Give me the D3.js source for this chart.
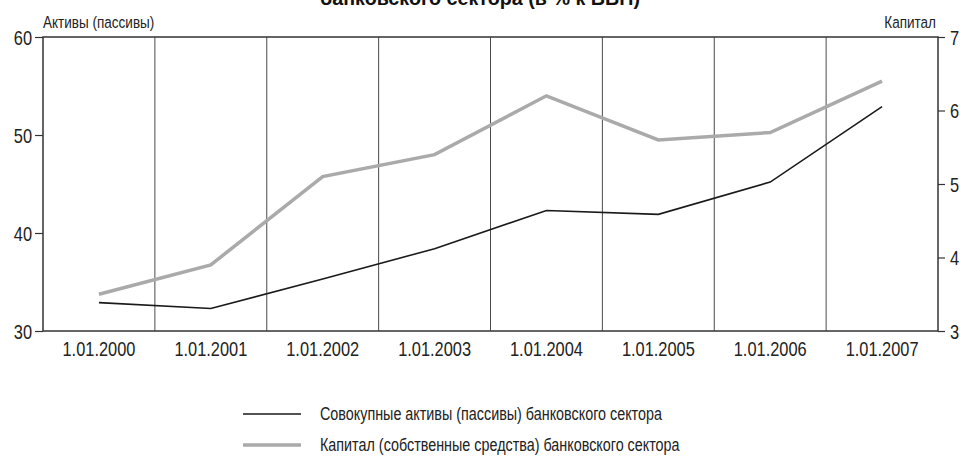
<!DOCTYPE html>
<html>
<head>
<meta charset="utf-8">
<script src="https://cdnjs.cloudflare.com/ajax/libs/d3/7.8.5/d3.min.js"></script>
<style>
	body { margin: 0; background: #fff; }
	svg { display: block; font-family: "Liberation Sans", Arial, sans-serif; }
	.grid-line { stroke: #4a4a4a; stroke-width: 1; }
	.frame { fill: none; stroke: #333; stroke-width: 1.5; }
	.axis path { display: none; }
	.axis line { stroke: #333; stroke-width: 1.2; }
	.axis text { font-size: 20px; fill: #222; font-family: inherit; }
	.line-assets { fill: none; stroke: #1a1a1a; stroke-width: 1.6; }
	.line-capital { fill: none; stroke: #aaaaaa; stroke-width: 3.5; }
</style>
</head>
<body>
<div id="chart"></div>
<script>
(function () {
	'use strict';

	var dates = ['1.01.2000', '1.01.2001', '1.01.2002', '1.01.2003', '1.01.2004', '1.01.2005', '1.01.2006', '1.01.2007'];
	var assets = [32.9, 32.3, 35.3, 38.4, 42.3, 41.9, 45.2, 52.9];
	var capital = [3.5, 3.9, 5.1, 5.4, 6.2, 5.6, 5.7, 6.4];
	var leftTicks = [30, 40, 50, 60];
	var rightTicks = [3, 4, 5, 6, 7];
	var legendLabels = ['Совокупные активы (пассивы) банковского сектора', 'Капитал (собственные средства) банковского сектора'];

	var margin = {
			top: 37,
			right: 22,
			bottom: 131,
			left: 43
		},
		fullWidth = 960,
		fullHeight = 462,
		width = fullWidth - margin.left - margin.right,
		height = fullHeight - margin.top - margin.bottom;

	// no narrow font installed, so squeeze the text horizontally round its anchor
	var narrow = 0.82;

	function condense(selection, k) {
		selection.attr('transform', function () {
			var x = +d3.select(this).attr('x') || 0;
			return 'translate(' + x + ',0) scale(' + (k || narrow) + ',1) translate(' + (-x) + ',0)';
		});
	}

	var xScale = d3.scaleBand().domain(dates).range([0, width]).padding(0),
		yLeft = d3.scaleLinear().domain([30, 60]).range([height, 0]),
		yRight = d3.scaleLinear().domain([3, 7]).range([height, 0]);

	var svg = d3.select('#chart')
		.append('svg')
			.attr('width', fullWidth)
			.attr('height', fullHeight);

	// title, cut off by the top edge like in the source
	svg.append('text')
		.attr('x', 480)
		.attr('y', 5)
		.attr('text-anchor', 'middle')
		.style('font-size', '21px')
		.style('font-weight', 'bold')
		.style('fill', '#111')
		.text('банковского сектора (в % к ВВП)')
		.call(condense, 0.94);

	var g = svg.append('g')
		.attr('transform', 'translate(' + margin.left + ',' + margin.top + ')');

	// vertical grid lines between the years
	g.selectAll('.grid-line')
		.data(dates.slice(1))
		.enter()
		.append('line')
			.attr('class', 'grid-line')
			.attr('x1', function (d) { return xScale(d); })
			.attr('x2', function (d) { return xScale(d); })
			.attr('y1', 0)
			.attr('y2', height);

	g.append('rect')
		.attr('class', 'frame')
		.attr('width', width)
		.attr('height', height);

	g.append('g')
		.attr('class', 'axis axis-left')
		.call(d3.axisLeft(yLeft).tickValues(leftTicks).tickFormat(d3.format('d')).tickSize(8).tickPadding(3));

	g.append('g')
		.attr('class', 'axis axis-right')
		.attr('transform', 'translate(' + width + ',0)')
		.call(d3.axisRight(yRight).tickValues(rightTicks).tickFormat(d3.format('d')).tickSize(7).tickPadding(5));

	g.append('g')
		.attr('class', 'axis axis-bottom')
		.attr('transform', 'translate(0,' + height + ')')
		.call(d3.axisBottom(xScale).tickSize(0).tickPadding(11));

	g.selectAll('.axis-left .tick text, .axis-right .tick text').attr('dy', '0.35em');
	g.selectAll('.axis text').call(condense);

	// axis captions
	g.append('text')
		.attr('x', 0)
		.attr('y', -9)
		.style('font-size', '16.5px')
		.style('fill', '#222')
		.text('Активы (пассивы)')
		.call(condense);

	g.append('text')
		.attr('x', width - 2)
		.attr('y', -9)
		.attr('text-anchor', 'end')
		.style('font-size', '16.5px')
		.style('fill', '#222')
		.text('Капитал')
		.call(condense);

	var center = function (i) { return xScale(dates[i]) + xScale.bandwidth() / 2; };

	var lineLeft = d3.line()
		.x(function (d, i) { return center(i); })
		.y(function (d) { return yLeft(d); });

	var lineRight = d3.line()
		.x(function (d, i) { return center(i); })
		.y(function (d) { return yRight(d); });

	g.append('path')
		.datum(capital)
		.attr('class', 'line-capital')
		.attr('d', lineRight);

	g.append('path')
		.datum(assets)
		.attr('class', 'line-assets')
		.attr('d', lineLeft);

	// LEGEND
	var legend = svg.append('g')
		.attr('transform', 'translate(243,414)');

	var legendClasses = ['line-assets', 'line-capital'];

	legendLabels.forEach(function (label, i) {
		legend.append('line')
			.attr('class', legendClasses[i])
			.attr('x1', 0)
			.attr('x2', 58)
			.attr('y1', i * 31)
			.attr('y2', i * 31);

		legend.append('text')
			.attr('x', 77)
			.attr('y', i * 31)
			.attr('dy', '0.35em')
			.style('font-size', '17.5px')
			.style('fill', '#222')
			.text(label)
			.call(condense);
	});
}());
</script>
</body>
</html>
